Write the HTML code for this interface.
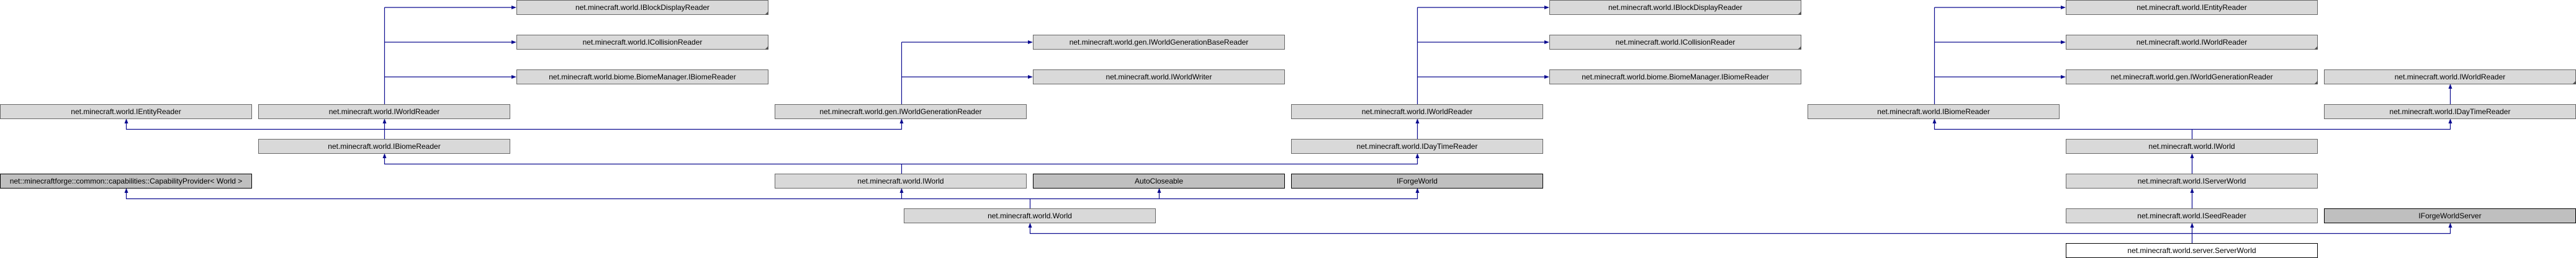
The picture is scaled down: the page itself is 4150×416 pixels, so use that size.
<!DOCTYPE html>
<html><head><meta charset="utf-8"><style>
html,body{margin:0;padding:0;background:#fff;}
svg{display:block;}
text{font-family:"Liberation Sans",sans-serif;font-size:12px;fill:#000;text-anchor:middle;}
</style></head><body>
<svg width="4150" height="416" viewBox="0 0 4150 416" xmlns="http://www.w3.org/2000/svg">
<g stroke="#0b0b8f" stroke-width="1.2" fill="none">
<path d="M619.5 12V168M619.5 12H828M619.5 68H828M619.5 124H828"/>
<path d="M1452.5 68V168M1452.5 68H1660M1452.5 124H1660"/>
<path d="M2283.5 12V168M2283.5 12H2492M2283.5 68H2492M2283.5 124H2492"/>
<path d="M3116.5 12V168M3116.5 12H3324M3116.5 68H3324M3116.5 124H3324"/>
<path d="M3947.5 139V168"/>
<path d="M619.5 195V224"/>
<path d="M203.5 195V208.5H1452.5V195"/>
<path d="M2283.5 195V224"/>
<path d="M3116.5 195V208.5H3947.5V195M3531.5 208.5V224"/>
<path d="M619.5 251V264.5H2283.5V251M1452.5 264.5V280"/>
<path d="M203.5 307V320.5H2283.5V307M1452.5 307V320.5M1867.5 307V320.5M1659.5 320.5V336"/>
<path d="M1659.5 363V376.5H3947.5V363M3531.5 363V392"/>
<path d="M3531.5 251V280M3531.5 307V336"/>
</g>
<g fill="#0b0b8f">
<polygon points="832,12 824,9 824,15"/><polygon points="832,68 824,65 824,71"/><polygon points="832,124 824,121 824,127"/>
<polygon points="1664,68 1656,65 1656,71"/><polygon points="1664,124 1656,121 1656,127"/>
<polygon points="2496,12 2488,9 2488,15"/><polygon points="2496,68 2488,65 2488,71"/><polygon points="2496,124 2488,121 2488,127"/>
<polygon points="3328,12 3320,9 3320,15"/><polygon points="3328,68 3320,65 3320,71"/><polygon points="3328,124 3320,121 3320,127"/>
<polygon points="3947.5,135 3944.5,143 3950.5,143"/>
<polygon points="619.5,191 616.5,199 622.5,199"/><polygon points="203.5,191 200.5,199 206.5,199"/><polygon points="1452.5,191 1449.5,199 1455.5,199"/>
<polygon points="2283.5,191 2280.5,199 2286.5,199"/><polygon points="3116.5,191 3113.5,199 3119.5,199"/><polygon points="3947.5,191 3944.5,199 3950.5,199"/>
<polygon points="619.5,247 616.5,255 622.5,255"/><polygon points="2283.5,247 2280.5,255 2286.5,255"/><polygon points="3531.5,247 3528.5,255 3534.5,255"/>
<polygon points="203.5,303 200.5,311 206.5,311"/><polygon points="1452.5,303 1449.5,311 1455.5,311"/><polygon points="1867.5,303 1864.5,311 1870.5,311"/><polygon points="2283.5,303 2280.5,311 2286.5,311"/><polygon points="3531.5,303 3528.5,311 3534.5,311"/>
<polygon points="1659.5,359 1656.5,367 1662.5,367"/><polygon points="3531.5,359 3528.5,367 3534.5,367"/><polygon points="3947.5,359 3944.5,367 3950.5,367"/>
</g>
<g stroke="#666" stroke-width="1" fill="#d9d9d9">
<rect x="832.5" y="0.5" width="405" height="23"/><rect x="2496.5" y="0.5" width="405" height="23"/><rect x="3328.5" y="0.5" width="405" height="23"/>
<rect x="832.5" y="56.5" width="405" height="23"/><rect x="1664.5" y="56.5" width="405" height="23"/><rect x="2496.5" y="56.5" width="405" height="23"/><rect x="3328.5" y="56.5" width="405" height="23"/>
<rect x="832.5" y="112.5" width="405" height="23"/><rect x="1664.5" y="112.5" width="405" height="23"/><rect x="2496.5" y="112.5" width="405" height="23"/><rect x="3328.5" y="112.5" width="405" height="23"/><rect x="3744.5" y="112.5" width="405" height="23"/>
<rect x="0.5" y="168.5" width="405" height="23"/><rect x="416.5" y="168.5" width="405" height="23"/><rect x="1248.5" y="168.5" width="405" height="23"/><rect x="2080.5" y="168.5" width="405" height="23"/><rect x="2912.5" y="168.5" width="405" height="23"/><rect x="3744.5" y="168.5" width="405" height="23"/>
<rect x="416.5" y="224.5" width="405" height="23"/><rect x="2080.5" y="224.5" width="405" height="23"/><rect x="3328.5" y="224.5" width="405" height="23"/>
<rect x="1248.5" y="280.5" width="405" height="23"/><rect x="3328.5" y="280.5" width="405" height="23"/>
<rect x="1456.5" y="336.5" width="405" height="23"/><rect x="3328.5" y="336.5" width="405" height="23"/>
</g>
<g stroke="#000" stroke-width="1" fill="#bfbfbf">
<rect x="0.5" y="280.5" width="405" height="23"/><rect x="1664.5" y="280.5" width="405" height="23"/><rect x="2080.5" y="280.5" width="405" height="23"/><rect x="3744.5" y="336.5" width="405" height="23"/>
</g>
<rect x="3328.5" y="392.5" width="405" height="23" stroke="#000" fill="#fff"/>
<g fill="#555">
<polygon points="1238,18 1238,24 1232,24"/><polygon points="1238,74 1238,80 1232,80"/>
<polygon points="2902,18 2902,24 2896,24"/><polygon points="2902,74 2902,80 2896,80"/>
<polygon points="3734,74 3734,80 3728,80"/><polygon points="3734,130 3734,136 3728,136"/><polygon points="4150,130 4150,136 4144,136"/>
</g>
<text x="1035" y="16">net.minecraft.world.IBlockDisplayReader</text>
<text x="2699" y="16">net.minecraft.world.IBlockDisplayReader</text>
<text x="3531" y="16">net.minecraft.world.IEntityReader</text>
<text x="1035" y="72">net.minecraft.world.ICollisionReader</text>
<text x="1867" y="72">net.minecraft.world.gen.IWorldGenerationBaseReader</text>
<text x="2699" y="72">net.minecraft.world.ICollisionReader</text>
<text x="3531" y="72">net.minecraft.world.IWorldReader</text>
<text x="1035" y="128">net.minecraft.world.biome.BiomeManager.IBiomeReader</text>
<text x="1867" y="128">net.minecraft.world.IWorldWriter</text>
<text x="2699" y="128">net.minecraft.world.biome.BiomeManager.IBiomeReader</text>
<text x="3531" y="128">net.minecraft.world.gen.IWorldGenerationReader</text>
<text x="3947" y="128">net.minecraft.world.IWorldReader</text>
<text x="203" y="184">net.minecraft.world.IEntityReader</text>
<text x="619" y="184">net.minecraft.world.IWorldReader</text>
<text x="1451" y="184">net.minecraft.world.gen.IWorldGenerationReader</text>
<text x="2283" y="184">net.minecraft.world.IWorldReader</text>
<text x="3115" y="184">net.minecraft.world.IBiomeReader</text>
<text x="3947" y="184">net.minecraft.world.IDayTimeReader</text>
<text x="619" y="240">net.minecraft.world.IBiomeReader</text>
<text x="2283" y="240">net.minecraft.world.IDayTimeReader</text>
<text x="3531" y="240">net.minecraft.world.IWorld</text>
<text x="203" y="296">net::minecraftforge::common::capabilities::CapabilityProvider&lt; World &gt;</text>
<text x="1451" y="296">net.minecraft.world.IWorld</text>
<text x="1867" y="296">AutoCloseable</text>
<text x="2283" y="296">IForgeWorld</text>
<text x="3531" y="296">net.minecraft.world.IServerWorld</text>
<text x="1659" y="352">net.minecraft.world.World</text>
<text x="3531" y="352">net.minecraft.world.ISeedReader</text>
<text x="3947" y="352">IForgeWorldServer</text>
<text x="3531" y="408">net.minecraft.world.server.ServerWorld</text>
</svg>
</body></html>
